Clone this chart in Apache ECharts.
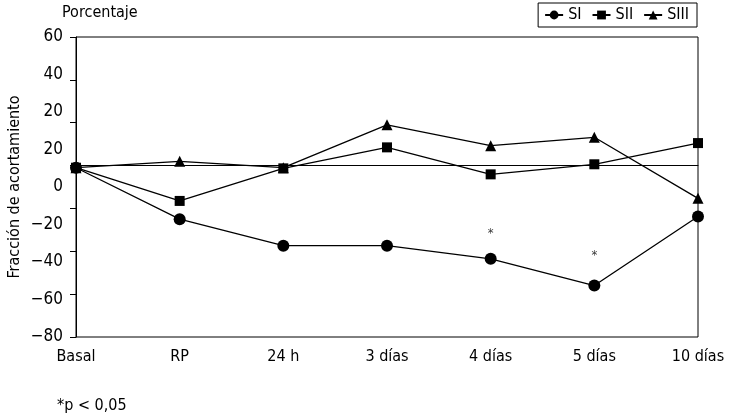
<!DOCTYPE html>
<html>
<head>
<meta charset="utf-8">
<script src="https://cdn.jsdelivr.net/npm/echarts@6/dist/echarts.min.js"></script>
<style>html,body{margin:0;padding:0;background:#fff;}#c{width:730px;height:420px;}</style>
</head>
<body>
<div id="c"></div>
<script>
const categories = ['Basal', 'RP', '24 h', '3 días', '4 días', '5 días', '10 días'];
const SI = [-1, -25, -37.4, -37.4, -43.5, -56, -23.8];
const SII = [-1, -16.5, -1.3, 8.5, -4.1, 0.6, 10.5];
const SIII = [-1, 2, -1, 19, 9.3, 13.2, -15.3];
const asterisks = [null, null, null, null, -31.6, -42, null];
const yTickLabels = ['−80', '−60', '−40', '−20', '0', '20', '20', '40', '60'];
const yMin = -80, yMax = 60, yStep = 20;

const FONT = '"DejaVu Sans Condensed", "Liberation Sans Narrow", "Liberation Sans", Arial, sans-serif';
const chart = echarts.init(document.getElementById('c'), null, {renderer: 'canvas'});

function lineSeries(name, data, symbol, size) {
  return {
    name: name, type: 'line', data: data, yAxisIndex: 0,
    symbol: symbol, symbolSize: size, showAllSymbol: true,
    lineStyle: {color: '#000', width: 1.3},
    itemStyle: {color: '#000'},
    emphasis: {disabled: true},
    animation: false, z: 3
  };
}

const option = {
  animation: false,
  textStyle: {fontFamily: FONT},
  grid: {left: 76, right: 32, top: 37, bottom: 83, containLabel: false, outerBoundsMode: 'none',
         show: true, borderColor: '#000', borderWidth: 1, backgroundColor: 'transparent'},
  legend: {
    top: 3, right: 33,
    data: ['SI', 'SII', 'SIII'],
    borderColor: '#000', borderWidth: 1,
    padding: [4, 8, 4, 6],
    itemGap: 10, itemWidth: 18, itemHeight: 11,
    textStyle: {fontFamily: FONT, fontSize: 16, color: '#000'}
  },
  xAxis: {
    type: 'category', data: categories, boundaryGap: false,
    axisLine: {lineStyle: {color: '#000', width: 1}},
    axisTick: {show: false},
    axisLabel: {color: '#000', fontSize: 16, fontFamily: FONT, margin: 12, interval: 0},
    splitLine: {show: false}
  },
  yAxis: [
    {
      type: 'value', min: yMin, max: yMax, interval: yStep,
      position: 'left',
      name: 'Fracción de acortamiento', nameLocation: 'middle', nameGap: 53, nameRotate: 90,
      nameTextStyle: {color: '#000', fontSize: 16, fontFamily: FONT},
      axisLine: {show: true, lineStyle: {color: '#000', width: 1}},
      axisTick: {show: true, length: 6, lineStyle: {color: '#000'}},
      axisLabel: {show: false},
      splitLine: {show: false}
    },
    {
      type: 'category', data: yTickLabels, boundaryGap: false,
      position: 'left',
      axisLine: {show: false}, axisTick: {show: false},
      axisLabel: {color: '#000', fontSize: 17, fontFamily: FONT, margin: 13, interval: 0},
      splitLine: {show: false}
    }
  ],
  graphic: [
    {type: 'text', left: 62, top: 5, style: {text: 'Porcentaje', fontSize: 16, fontFamily: FONT, fill: '#000'}},
    {type: 'text', left: 57, top: 398, style: {text: '*p < 0,05', fontSize: 16, fontFamily: FONT, fill: '#000'}}
  ],
  series: [
    Object.assign(lineSeries('SI', SI, 'circle', 12), {
      markLine: {
        silent: true, symbol: 'none', animation: false,
        label: {show: false},
        lineStyle: {color: '#000', width: 1.2, type: 'solid'},
        data: [{yAxis: 0}]
      }
    }),
    lineSeries('SII', SII, 'rect', 10),
    lineSeries('SIII', SIII, 'triangle', 11),
    {
      name: 'sig', type: 'scatter', data: asterisks, yAxisIndex: 0,
      symbolSize: 0,
      label: {show: true, formatter: '*', position: 'inside', color: '#000', fontSize: 13, fontFamily: FONT},
      emphasis: {disabled: true}, animation: false
    }
  ]
};
chart.setOption(option);
</script>
</body>
</html>
